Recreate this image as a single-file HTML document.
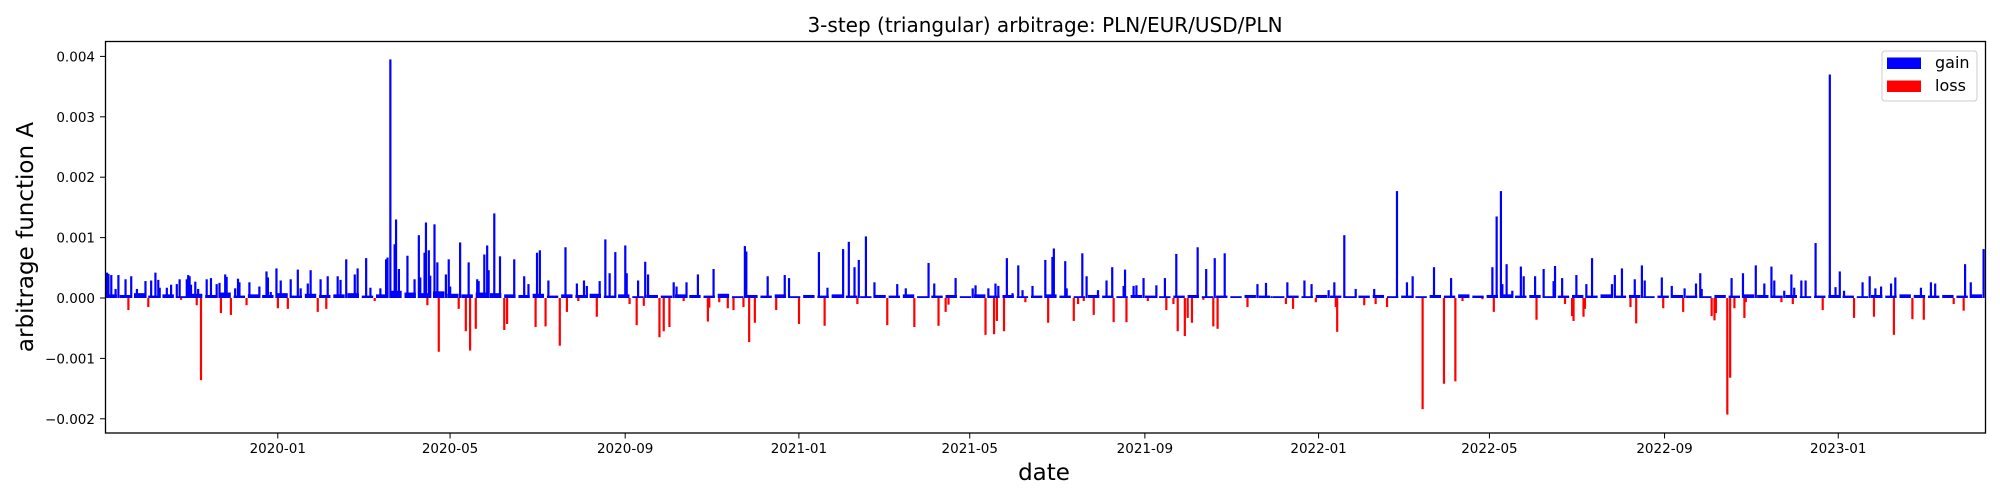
<!DOCTYPE html>
<html><head><meta charset="utf-8">
<style>
html,body{margin:0;padding:0;background:#fff;}
svg{display:block;}
text{font-family:"DejaVu Sans","Liberation Sans",sans-serif;fill:#000;}
</style></head>
<body>
<svg id="chart" width="2000" height="500" xmlns="http://www.w3.org/2000/svg">
  <text x="1045" y="32" font-size="20" text-anchor="middle">3-step (triangular) arbitrage: PLN/EUR/USD/PLN</text>
  <g id="bars"></g>
  <g id="yticks"></g>
  <g id="xticks"></g>
  <rect x="105.5" y="41.5" width="1880" height="391.5" fill="none" stroke="#000" stroke-width="1.3"/>
  <text transform="translate(33,237) rotate(-90)" font-size="23" text-anchor="middle">arbitrage function A</text>
  <text x="1044" y="480" font-size="23" text-anchor="middle">date</text>
  <g>
    <rect x="1882" y="51" width="95" height="50" rx="3" fill="#fff" stroke="#ccc" stroke-width="1"/>
    <rect x="1887" y="57.5" width="34" height="11.5" fill="#0000ff"/>
    <text x="1935" y="68" font-size="16">gain</text>
    <rect x="1887" y="80.5" width="34" height="11.5" fill="#ff0000"/>
    <text x="1935" y="91" font-size="16">loss</text>
  </g>
</svg>
<script>
// day offsets from 2019-09-02
const days = [1,2,4,7,9,14,16,18,22,28,30,32,35,37,38,43,46,50,52,53,57,58,59,60,63,64,65,67,71,74,78,80,81,84,85,88,91,93,94,99,101,108,113,114,116,120,121,123,128,130,135,137,142,144,149,151,155,156,163,165,169,175,177,183,186,189,193,197,198,200,201,203,204,206,212,217,220,221,224,225,226,227,228,231,233,234,239,241,242,248,249,253,255,256,260,261,262,266,268,269,273,277,
280,282,287,294,297,302,303,305,309,311,319,323,324,331,332,336,338,345,347,351,354,358,365,366,368,373,374,378,379,381,389,392,396,399,401,406,408,416,423,424,427,431,437,441,448,449,450,452,456,465,471,477,480,487,501,505,507,518,522,526,528,529,534,540,549,556,562,568,578,582,585,590,592,597,609,611,618,620,624,625,626,627,
631,633,637,641,644,646,651,660,662,665,666,674,675,680,683,686,687,689,694,697,703,707,708,715,716,717,722,724,729,732,738,744,745,750,752,753,758,760,763,767,771,773,778,779,781,786,802,809,815,819,829,830,834,842,847,850,859,863,864,865,870,878,884,891,892,900,907,914,918,925,933,940,945,948,953,967,974,975,977,980,981,
984,988,994,996,1004,1005,1010,1017,1018,1023,1025,1030,1031,1033,1038,1039,1040,1044,1058,1060,1065,1071,1074,1075,1079,1081,1093,1094,1100,1108,1109,1117,1120,1121,1128,1130,1131,1139,1141,1142,1144,1150,1151,1152,1159,1165,1170,1172,1177,1179,1184,1185,1186,1191,1194,1201,1206,1211,1215,1218,1221,1228,1234,1239,1242,1243,1247,1254,1256,1257,1269,1275,1277,1282,1285,1298,1305,1306,1310,1319];
const values = [0.00042,0.0004,0.00038,0.00015,0.00038,0.00031,-0.0002,0.00036,0.00015,0.00028,-0.00015,0.00029,0.00042,0.0003,0.00017,0.00017,0.00022,0.00023,0.00031,-0.00003,0.00031,0.00038,0.00036,0.00022,0.00027,-0.00012,0.00015,-0.00136,0.00031,0.00033,0.00023,0.00025,-0.00025,0.00039,0.00035,-0.00028,0.00016,0.00032,0.00026,-0.00012,0.00026,0.00019,0.00044,0.00034,0.0001,0.00049,-0.00017,0.00029,-0.00018,0.00031,0.00047,0.00016,0.00024,0.00046,-0.00023,0.00031,-0.00018,0.00036,0.00036,0.0003,0.00064,0.00039,0.00049,0.00066,0.00017,-0.00005,0.00016,0.00064,0.00067,0.00395,0.0001,0.00089,0.0013,0.00048,0.0007,0.00031,0.00104,0.00034,0.00075,0.00125,-0.00012,0.00079,0.00037,0.00122,0.00059,-0.00089,0.00039,0.00064,0.00019,-0.00018,0.00092,-0.00055,0.00059,-0.00087,-0.00051,0.00031,0.00028,0.00072,0.00087,0.00046,0.0014,0.00069,
-0.00053,-0.00043,0.00064,0.00036,0.00023,-0.00048,0.00075,0.00079,-0.00047,0.00029,-0.00079,0.00084,-0.00023,0.00024,-0.00005,0.00029,0.0002,-0.00031,0.00028,0.00097,0.00041,0.00076,0.00087,0.00041,-0.0001,-0.00045,0.00029,-0.00013,0.0006,0.00039,-0.00065,-0.00055,-0.00048,0.00026,0.00019,-0.00005,0.00026,0.00039,-0.00039,-0.00016,0.00048,-0.00007,-0.00017,-0.0002,-0.00015,0.00086,0.00077,-0.00073,-0.00041,0.00036,-0.0002,0.00038,0.00033,-0.00043,0.00076,-0.00046,0.00017,0.00081,0.00093,0.00051,-0.0001,0.00063,0.00102,0.00026,-0.00045,0.00023,0.00016,-0.00048,0.00058,0.00024,-0.00046,-0.00023,-0.00011,0.00033,0.00016,0.00021,-0.00061,0.00016,-0.0006,0.00024,-0.00038,0.0002,
-0.00055,0.00066,0.00008,0.00054,0.00013,-0.00007,0.0002,0.00063,-0.00041,0.00068,0.00082,0.00061,0.00016,-0.00038,-0.0001,0.00074,-0.00005,0.00036,-0.00028,0.00013,0.00029,0.00051,-0.0004,0.0002,0.00047,-0.0004,0.0002,0.00021,0.00033,-0.00005,0.00021,0.00033,-0.0002,-0.0001,0.00073,-0.00055,-0.00063,-0.00033,-0.00041,0.00084,-0.00003,0.00048,-0.00047,0.00066,-0.00051,0.00074,-0.00015,0.00023,0.00025,0.00003,-0.0001,0.00026,-0.00018,0.00029,0.00023,-0.00007,0.00013,0.00026,-0.00015,-0.00056,0.00104,0.00015,-0.00012,0.00015,-0.0001,-0.00015,0.00177,0.00026,0.00036,-0.00184,0.00051,-0.00142,0.00033,-0.00138,-0.00005,-0.00002,0.00051,-0.00023,0.00135,0.00177,0.00023,
0.00056,0.00012,0.00052,0.00036,0.00036,-0.00036,0.00048,0.00028,0.00053,0.00033,-0.0001,-0.0003,-0.00038,0.00038,-0.00031,-0.00018,0.00023,0.00066,0.00023,0.00038,0.00049,-0.00015,0.00031,-0.00042,0.00054,0.00029,0.00034,-0.00017,0.0002,-0.00023,0.00016,0.00024,0.00041,0.00015,-0.0003,-0.00037,-0.00025,-0.00193,-0.00132,0.00033,-0.00017,0.00041,-0.00033,-0.00007,0.00054,0.00024,0.00052,0.00029,-0.00007,0.00012,0.00039,-0.0001,0.00017,0.00029,0.00029,0.00091,-0.0002,0.0037,0.00018,0.00044,0.00012,-0.00033,0.00026,0.00036,-0.00031,0.00016,0.00019,0.00024,-0.00061,0.00034,-0.00035,0.00017,-0.00036,0.00026,0.00024,-0.0001,-0.00021,0.00056,0.00026,0.00081];
// baseline small gains, one every 10 days starting day 0
const baseDays = [0,10,20,30,40,50,60,70,80,90,100,110,120,130,140,150,160,170,180,190,200,210,220,230,240,250,260,270,280,290,300,310,320,330,340,350,360,370,380,390,400,410,420,430,440,450,460,470,480,490,500,510,520,530,540,550,560,570,580,590,600,610,620,630,640,650,660,670,680,690,700,710,720,730,740,750,760,770,780,790,800,810,820,830,840,850,860,870,880,890,900,910,920,930,940,950,960,970,980,990,1000,1010,1020,1030,1040,1050,1060,1070,1080,1090,1100,1110,1120,1130,1140,1150,1160,1170,1180,1190,1200,1210,1220,1230,1240,1250,1260,1270,1280,1290,1300,1310];
const baseVals = [0.00006,0.00005,0.00008,0.00004,0.00006,0.00003,0.00007,0.00005,0.00009,0.00004,0.00006,0.00005,0.00008,0.00004,0.00007,0.00005,0.00006,0.00008,0.00004,0.00006,0.00012,0.00009,0.00008,0.00011,0.00007,0.00006,0.00009,0.00008,0.00006,0.00005,0.00007,0.00004,0.00006,0.00005,0.00007,0.00004,0.00006,0.00003,0.00005,0.00004,0.00006,0.00005,0.00004,0.00007,0.00003,0.00005,0.00004,0.00006,0.00003,0.00005,0.00004,0.00006,0.00004,0.00003,0.00005,0.00004,0.00006,0.00003,0.00004,0.00005,0.00003,0.00006,0.00004,0.00005,0.00003,0.00004,0.00006,0.00004,0.00003,0.00005,0.00004,0.00003,0.00005,0.00004,0.00003,0.00004,0.00005,0.00003,0.00004,0.00003,0.00005,0.00004,0.00003,0.00004,0.00003,0.00005,0.00004,0.00003,0.00004,0.00005,0.00003,0.00004,0.00003,0.00005,0.00004,0.00006,0.00004,0.00005,0.00006,0.00004,0.00005,0.00003,0.00004,0.00005,0.00004,0.00006,0.00004,0.00005,0.00003,0.00004,0.00005,0.00004,0.00003,0.00005,0.00004,0.00006,0.00005,0.00004,0.00005,0.00003,0.00004,0.00005,0.00004,0.00003,0.00005,0.00004,0.00006,0.00005,0.00004,0.00005,0.00004,0.00006];
const yTicks = [-0.002,-0.001,0,0.001,0.002,0.003,0.004];
const yTickLabels = ["\u22120.002","\u22120.001","0.000","0.001","0.002","0.003","0.004"];
const xTickDates = ["2020-01-01","2020-05-01","2020-09-01","2021-01-01","2021-05-01","2021-09-01","2022-01-01","2022-05-01","2022-09-01","2023-01-01"];
const xTickLabels = ["2020-01","2020-05","2020-09","2021-01","2021-05","2021-09","2022-01","2022-05","2022-09","2023-01"];

const NS="http://www.w3.org/2000/svg";
const ORIGIN = Date.UTC(2019,8,2);
const X0=105.5, PXDAY=1.4238;
function xScale(d){return X0+d*PXDAY;}
function yScale(v){return 298 - v*60400;}
function dateToDay(s){const p=s.split('-');return (Date.UTC(+p[0],+p[1]-1,+p[2])-ORIGIN)/86400000;}

const bars=document.getElementById('bars');
for(let i=0;i<baseDays.length;i++){
  const r=document.createElementNS(NS,'rect');
  const y0=yScale(0), y1=yScale(baseVals[i]);
  r.setAttribute('x',xScale(baseDays[i]));
  r.setAttribute('y',Math.min(y0,y1));
  r.setAttribute('width',PXDAY*8);
  r.setAttribute('height',Math.max(Math.abs(y1-y0),1.5));
  r.setAttribute('fill','#0000ff');
  
  
  bars.appendChild(r);
}
for(let i=0;i<days.length;i++){
  const v=values[i];
  const r=document.createElementNS(NS,'rect');
  const y0=yScale(0), y1=yScale(v);
  r.setAttribute('x',xScale(days[i])-1);
  r.setAttribute('y',Math.min(y0,y1));
  r.setAttribute('width',2.2);
  r.setAttribute('height',Math.abs(y1-y0));
  r.setAttribute('fill',v>=0?'#0000ff':'#ff0000');
  
  
  bars.appendChild(r);
}
const yg=document.getElementById('yticks');
for(let i=0;i<yTicks.length;i++){
  const y=yScale(yTicks[i]);
  const l=document.createElementNS(NS,'line');
  l.setAttribute('x1',100);l.setAttribute('x2',105.5);l.setAttribute('y1',y);l.setAttribute('y2',y);
  l.setAttribute('stroke','#000');l.setAttribute('stroke-width',1);
  
  
  yg.appendChild(l);
  const t=document.createElementNS(NS,'text');
  t.setAttribute('x',95);t.setAttribute('y',y+5);t.setAttribute('font-size',13.5);t.setAttribute('text-anchor','end');
  t.textContent=yTickLabels[i];
  
  
  yg.appendChild(t);
}
const xg=document.getElementById('xticks');
for(let i=0;i<xTickDates.length;i++){
  const x=xScale(dateToDay(xTickDates[i]));
  const l=document.createElementNS(NS,'line');
  l.setAttribute('x1',x);l.setAttribute('x2',x);l.setAttribute('y1',433);l.setAttribute('y2',438.5);
  l.setAttribute('stroke','#000');l.setAttribute('stroke-width',1);
  
  
  xg.appendChild(l);
  const t=document.createElementNS(NS,'text');
  t.setAttribute('x',x);t.setAttribute('y',453);t.setAttribute('font-size',13.5);t.setAttribute('text-anchor','middle');
  t.textContent=xTickLabels[i];
  
  
  xg.appendChild(t);
}
</script>
</body></html>
